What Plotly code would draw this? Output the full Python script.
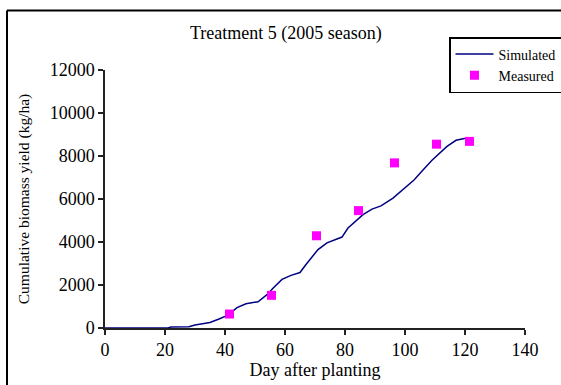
import plotly.graph_objects as go

sim_day = [0, 21, 22, 28, 30, 35, 38, 41, 44, 47, 51, 54, 56, 59, 62, 65, 67, 71, 74,
           79, 81, 84, 86, 89, 92, 96, 99, 103, 106, 109, 114, 117, 121]
sim_val = [0, 0, 50, 60, 140, 260, 420, 600, 950, 1130, 1220, 1550, 1850, 2260, 2450, 2580,
           2950, 3650, 3960, 4230, 4650, 5030, 5270, 5530, 5680, 6040, 6390, 6880, 7350,
           7800, 8450, 8730, 8850]
meas_day = [41.5, 55.5, 70.5, 84.5, 96.5, 110.5, 121.5]
meas_val = [650, 1520, 4290, 5460, 7680, 8550, 8680]
x_ticks = [0, 20, 40, 60, 80, 100, 120, 140]
y_ticks = [0, 2000, 4000, 6000, 8000, 10000, 12000]
y_tick_text = ["0", "2000", "4000", "6000", "8000", "10000", "12000"]

FONT = "Liberation Serif"

fig = go.Figure()
fig.add_trace(go.Scatter(x=sim_day, y=sim_val, mode="lines", name="Simulated",
                         line=dict(color="#000080", width=1.5)))
fig.add_trace(go.Scatter(x=meas_day, y=meas_val, mode="markers", name="Measured",
                         marker=dict(symbol="square", size=9, color="#FF00FF")))

W, H = 561, 385
L, R, T, B = 105, 36, 70, 57
pw = W - L - R
ph = H - T - B

def px_to_paper_x(px):
    return (px - L) / pw

def px_to_paper_y(py):
    return (H - B - py) / ph

fx0 = px_to_paper_x(7)
fx1 = px_to_paper_x(561)
fy0 = px_to_paper_y(385)
fy1 = px_to_paper_y(10.5)

fig.update_layout(
    width=W, height=H,
    margin=dict(l=L, r=R, t=T, b=B, autoexpand=False),
    paper_bgcolor="white", plot_bgcolor="white",
    font=dict(family=FONT, color="black", size=16),
    showlegend=True,
    legend=dict(x=px_to_paper_x(449), y=px_to_paper_y(37), xanchor="left", yanchor="top",
                bordercolor="black", borderwidth=1.5, bgcolor="white",
                font=dict(family=FONT, size=14, color="black"), tracegroupgap=0,
                itemwidth=38),
    xaxis=dict(range=[0, 140], tickvals=x_ticks, showgrid=False, zeroline=False,
               showline=True, linecolor="#222", linewidth=1.5,
               ticks="outside", ticklen=5, tickcolor="#222", tickwidth=1.5,
               tickfont=dict(family=FONT, size=18, color="black"),
               title=dict(text="Day after planting",
                          font=dict(family=FONT, size=18, color="black"), standoff=3)),
    yaxis=dict(range=[0, 12000], tickvals=y_ticks, ticktext=y_tick_text,
               showgrid=False, zeroline=False,
               showline=True, linecolor="#222", linewidth=1.5,
               ticks="outside", ticklen=5, tickcolor="#222", tickwidth=1.5,
               tickfont=dict(family=FONT, size=18, color="black"),
               title=dict(text="Cumulative biomass yield (kg/ha)",
                          font=dict(family=FONT, size=15.5, color="black"), standoff=16)),
    annotations=[dict(text="Treatment 5 (2005 season)", xref="paper", yref="paper",
                      x=px_to_paper_x(286), y=px_to_paper_y(34), xanchor="center",
                      yanchor="middle", showarrow=False,
                      font=dict(family=FONT, size=18, color="black"))],
    shapes=[
        dict(type="line", xref="paper", yref="paper", x0=fx0, x1=fx0, y0=fy0, y1=fy1,
             line=dict(color="black", width=2), layer="below"),
        dict(type="line", xref="paper", yref="paper", x0=fx0, x1=fx1, y0=fy1, y1=fy1,
             line=dict(color="black", width=2), layer="below"),
    ],
)

fig.write_html("out.html")
